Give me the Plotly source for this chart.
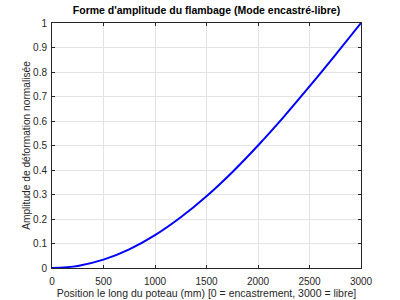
import plotly.graph_objects as go

x_mm = [0, 250, 500, 750, 1000, 1250, 1500, 1750, 2000, 2250, 2500, 2750, 3000]
amplitude = [0.0, 0.0086, 0.034, 0.076, 0.134, 0.207, 0.293, 0.391, 0.5, 0.617, 0.741, 0.869, 1.0]
x_ticks = [0, 500, 1000, 1500, 2000, 2500, 3000]
y_ticks = [0, 0.1, 0.2, 0.3, 0.4, 0.5, 0.6, 0.7, 0.8, 0.9, 1]

FONT = "Liberation Sans, Arial"

fig = go.Figure(go.Scatter(x=x_mm, y=amplitude, mode="lines",
                           line=dict(color="#0000ff", width=2, shape="spline")))

axcommon = dict(showline=True, linecolor="#262626", linewidth=1, mirror="ticks",
                ticks="inside", ticklen=3, tickcolor="#262626",
                showgrid=True, gridcolor="#e3e3e3", gridwidth=1, zeroline=False,
                automargin=False,
                tickfont=dict(family=FONT, size=10, color="#262626"))

fig.update_layout(
    width=400, height=300,
    margin=dict(l=52, r=39, t=23, b=32),
    paper_bgcolor="white", plot_bgcolor="white",
    showlegend=False,
    title=dict(text="<b>Forme d'amplitude du flambage (Mode encastré-libre)</b>",
               x=0.5, xref="paper", xanchor="center", y=0.955, yanchor="bottom",
               yref="container",
               font=dict(family=FONT, size=10.5, color="black")),
    xaxis=dict(range=[0, 3000], tickvals=x_ticks, ticklabelstandoff=4,
               title=dict(text="Position le long du poteau (mm) [0 = encastrement, 3000 = libre]",
                          font=dict(family=FONT, size=10.5, color="#262626"),
                          standoff=0),
               **axcommon),
    yaxis=dict(range=[0, 1], tickvals=y_ticks, ticklabelstandoff=2,
               title=dict(text="Amplitude de déformation normalisée",
                          font=dict(family=FONT, size=10.2, color="#262626"),
                          standoff=0),
               **axcommon),
)

fig.write_html("out.html")
